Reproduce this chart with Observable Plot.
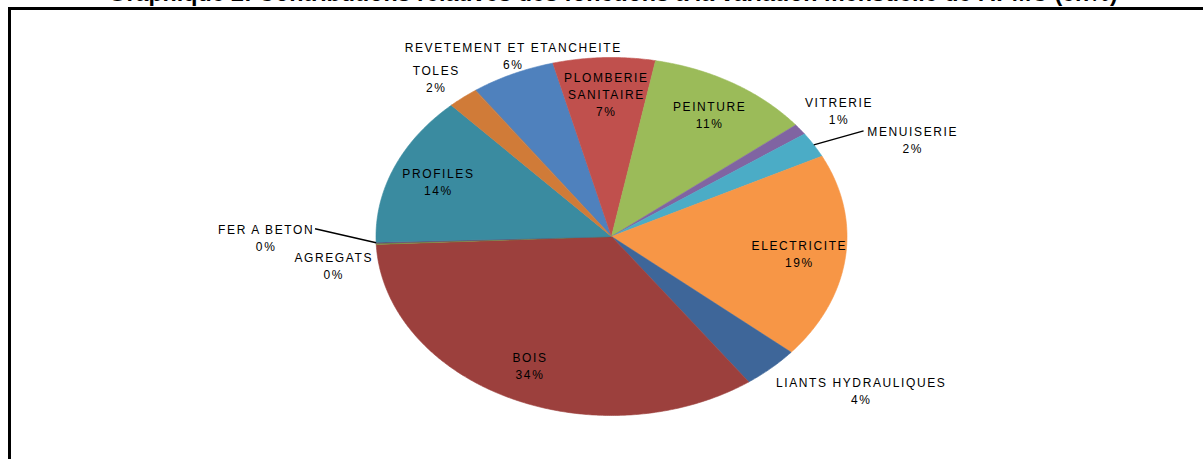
<!DOCTYPE html>
<html><head><meta charset="utf-8">
<script src="https://cdn.jsdelivr.net/npm/d3@7"></script>
<script src="https://cdn.jsdelivr.net/npm/@observablehq/plot@0.6"></script>
<style>
html,body{margin:0;padding:0;background:#fff;overflow:hidden;width:1203px;height:459px;position:relative}
#frame{position:absolute;left:8px;top:7px;width:1400px;height:700px;border-left:3px solid #000;border-top:3px solid #000;}
#title{position:absolute;left:0;top:-17px;width:1226px;text-align:center;font-weight:bold;font-family:'Liberation Sans',Arial,sans-serif;font-size:20px;line-height:20px;white-space:nowrap;color:#000}
#chart{position:absolute;left:0;top:0}
</style></head><body>
<div id="title">Graphique 2: Contributions relatives des fonctions à la variation mensuelle de l'IPMC (en%)</div>
<div id="frame"></div>
<div id="chart"></div>
<script>
// ---- data ----
const categories = ["REVETEMENT ET ETANCHEITE","PLOMBERIE SANITAIRE","PEINTURE","VITRERIE","MENUISERIE","ELECTRICITE","LIANTS HYDRAULIQUES","BOIS","AGREGATS","FER A BETON","PROFILES","TOLES"];
const values = [5.8, 7.0, 11.3, 1.0, 2.3, 18.6, 3.9, 34.2, 0.1, 0.1, 13.6, 2.1];
const colors = ["#4F81BD","#C0504D","#9BBB59","#8064A2","#4BACC6","#F79646","#3E6699","#9C403D","#77933C","#604A7B","#3A8BA0","#D07B38"];
const firstSliceAngle = 324.7;

// ---- title sizing ----
const titleEl = document.getElementById("title");
const cv = document.createElement("canvas").getContext("2d");
cv.font = "bold 20px 'Liberation Sans', Arial, sans-serif";
const tw = cv.measureText(titleEl.textContent).width;
titleEl.style.fontSize = (20 * 1010 / tw).toFixed(2) + "px";

// ---- geometry ----
const cx = 611, cy = 236, rx = 235.5, ry = 179;
const FS = 12, LS = 1.6, LH = 17, HB = 7, GAP = 18;
cv.font = FS + "px 'Liberation Sans', Arial, sans-serif";
const tWidth = t => cv.measureText(t).width + LS * t.length;
const rad = d => d * Math.PI / 180;
const total = d3.sum(values);
let acc = firstSliceAngle;
const slices = categories.map((name, i) => {
  const a0 = acc, a1 = acc + values[i] / total * 360; acc = a1;
  return {name, share: values[i] / total * 100, a0, a1, mid: (a0 + a1) / 2, pct: Math.round(values[i] / total * 100) + "%"};
});
const pts = [];
for (const s of slices) {
  pts.push({name: s.name, x: 0, y: 0});
  const n = Math.max(2, Math.ceil((s.a1 - s.a0) / 0.5));
  for (let k = 0; k <= n; k++) {
    const a = rad(s.a0 + (s.a1 - s.a0) * k / n);
    pts.push({name: s.name, x: Math.sin(a), y: Math.cos(a)});
  }
}

// ---- label layout (pixel space, then back to data space) ----
function lineBoxes(l) {
  const n = l.lines.length;
  return l.lines.map((t, i) => {
    const w = tWidth(t), ly = l.cy + (i - (n - 1) / 2) * LH;
    return {x0: l.bx - w / 2, x1: l.bx + w / 2, y0: ly - HB, y1: ly + HB};
  });
}
const overlap = (a, b) => a.x0 < b.x1 && b.x0 < a.x1 && a.y0 < b.y1 && b.y0 < a.y1;
const labels = [], leaders = [], placedBoxes = [];
for (const s of slices) {
  const sn = Math.sin(rad(s.mid)), cs = Math.cos(rad(s.mid));
  const inside = s.share >= 6.5;
  const lines = inside ? [...s.name.split(" "), s.pct] : [s.name, s.pct];
  const w = d3.max(lines, tWidth);
  const n = lines.length;
  if (inside) {
    labels.push({lines, bx: cx + sn * rx * 0.8, cy: cy - cs * ry * 0.8});
    continue;
  }
  const px = cx + sn * rx, py = cy - cs * ry;
  const vy = cs > 0 ? py - 11 - (n - 1) * LH / 2 : py + 13 + (n - 1) * LH / 2;
  let bx;
  if (Math.abs(sn) < 0.5) bx = px;
  else if (sn > 0) bx = px + 4 + w / 2;
  else bx = px - 4 - w / 2;
  const l = {lines, bx, cy: vy};
  let collided = false;
  for (let iter = 0; iter < 20; iter++) {
    let hitPair = null;
    for (const b of lineBoxes(l)) {
      const h = placedBoxes.find(p => overlap(b, p));
      if (h) { hitPair = [b, h]; break; }
    }
    if (!hitPair) break;
    if (!collided) {
      collided = true;
      l.cy = py - 14 + (n - 1) * LH / 2;
      continue;
    }
    const [b, h] = hitPair;
    if (sn >= 0) l.bx += h.x1 + GAP - b.x0; else l.bx -= b.x1 - (h.x0 - GAP);
  }
  placedBoxes.push(...lineBoxes(l));
  labels.push(l);
  if (collided) {
    const fb = lineBoxes(l)[0];
    leaders.push({x1: px, y1: py, x2: sn >= 0 ? fb.x0 - 3 : fb.x1 + 1, y2: (fb.y0 + fb.y1) / 2});
  }
}
const toX = p => (p - cx) / rx, toY = p => (cy - p) / ry;
const labelData = labels.map(l => ({text: l.lines.join("\n"), x: toX(l.bx + LS / 2), y: toY(l.cy)}));
const leaderData = leaders.map(d => ({x1: toX(d.x1), y1: toY(d.y1), x2: toX(d.x2), y2: toY(d.y2)}));

const chart = Plot.plot({
  width: 1203, height: 459, margin: 0,
  x: {domain: [-1, 1], range: [cx - rx, cx + rx], axis: null},
  y: {domain: [-1, 1], range: [cy + ry, cy - ry], axis: null},
  color: {domain: categories, range: colors},
  style: {fontFamily: "'Liberation Sans', Arial, sans-serif", fontSize: "12px", letterSpacing: LS + "px", background: "transparent", overflow: "visible"},
  marks: [
    Plot.line(pts, {x: "x", y: "y", z: "name", fill: "name", stroke: "name", strokeWidth: 0.6, curve: "linear-closed"}),
    Plot.link(leaderData, {x1: "x1", y1: "y1", x2: "x2", y2: "y2", stroke: "#000", strokeWidth: 1.4}),
    Plot.text(labelData, {x: "x", y: "y", text: "text", textAnchor: "middle", lineAnchor: "middle", lineHeight: LH / FS, fontSize: FS, fill: "#000"})
  ]
});
document.getElementById("chart").appendChild(chart);
</script>
</body></html>
